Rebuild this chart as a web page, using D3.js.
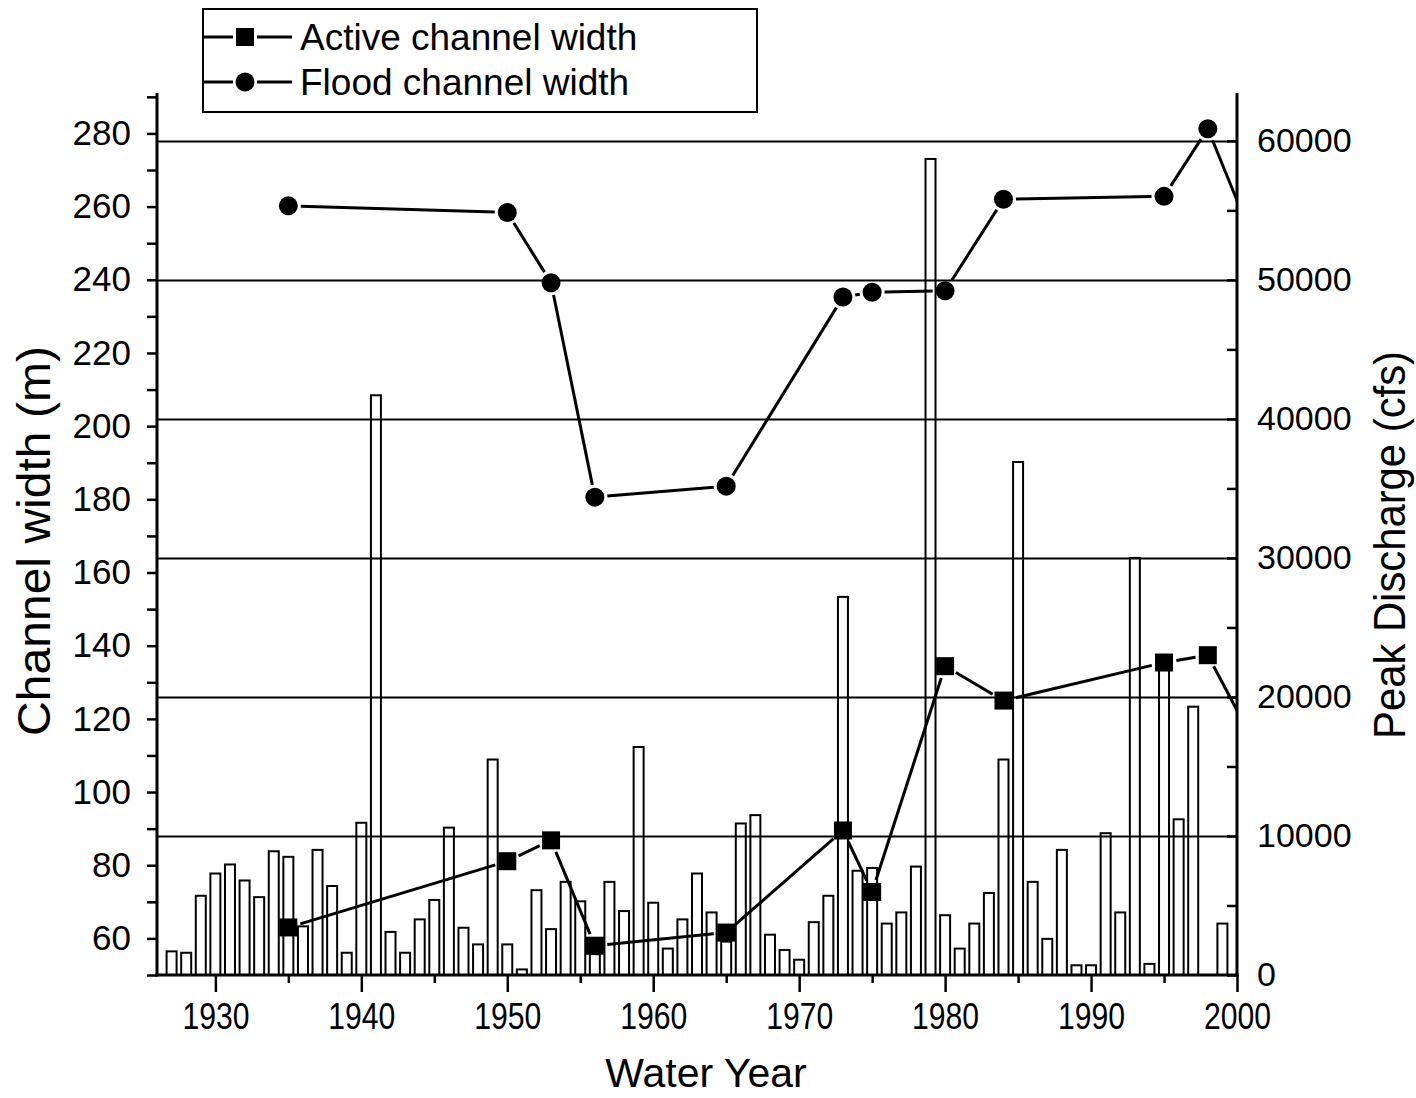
<!DOCTYPE html>
<html><head><meta charset="utf-8">
<script src="https://cdn.jsdelivr.net/npm/d3@7"></script>
<style>
body{margin:0;background:#fff}
svg{display:block}
text{font-family:"Liberation Sans",Arial,Helvetica,sans-serif;fill:#000}
</style>
</head><body>
<svg id="chart" width="1416" height="1098"></svg>
<script>
// ---------------- DATA ----------------
const barYears = d3.range(1927, 2000);
const peakDischarge = [
  1700, 1600, 5700,
  7300, 7950, 6800, 5600, 8900, 8500, 3500, 9000, 6400, 1600,
  10950, 41700, 3100, 1600, 4000, 5400, 10600, 3400, 2200, 15500,
  2200, 400, 6100, 3300, 6700, 5300, 1500, 6700, 4600, 16400,
  5200, 1900, 4000, 7300, 4500, 2400, 10900, 11500, 2900, 1800,
  1100, 3800, 5700, 27200, 7500, 7700, 3700, 4500, 7800, 58700,
  4300, 1900, 3700, 5900, 15500, 36900, 6700, 2600, 9000, 700,
  700, 10200, 4500, 30000, 800, 22400, 11200, 19300, null, 3700
];
const surveyYears = [1935, 1950, 1953, 1956, 1965, 1973, 1975, 1980, 1984, 1995, 1998, 2001];
const activeWidth = [63.0, 81.1, 86.8, 58.0, 61.6, 89.5, 72.7, 134.4, 125.0, 135.4, 137.4, 114.8];
const floodWidth  = [260.2, 258.4, 239.2, 180.6, 183.6, 235.3, 236.6, 237.0, 262.0, 262.8, 281.3, 251.9];
const seriesNames = ["Active channel width", "Flood channel width"];
const xTickValues = [1930, 1940, 1950, 1960, 1970, 1980, 1990, 2000];
const xMinorTicks = [1935, 1945, 1955, 1965, 1975, 1985, 1995];
const leftTickLabels = [60, 80, 100, 120, 140, 160, 180, 200, 220, 240, 260, 280];
const rightTickLabels = [0, 10000, 20000, 30000, 40000, 50000, 60000];

// ---------------- LAYOUT ----------------
const L = 157, R = 1237, T = 95, B = 975;
const svg = d3.select("#chart");
const x = d3.scaleLinear().domain([1926, 2000]).range([L, R]);
const yL = d3.scaleLinear().domain([50, 290.5]).range([B, T]);
const yR = d3.scaleLinear().domain([0, 63300]).range([B, T]);

svg.append("rect").attr("width", 1416).attr("height", 1098).attr("fill", "#fff");

svg.append("defs").append("clipPath").attr("id", "plotclip")
  .append("rect").attr("x", L).attr("y", 40).attr("width", R - L).attr("height", B - 40);

const plot = svg.append("g").attr("clip-path", "url(#plotclip)");

// bars
const barW = 10;
plot.append("g").selectAll("rect")
  .data(barYears.map((yr, i) => ({yr, v: peakDischarge[i]})).filter(d => d.v != null))
  .join("rect")
  .attr("x", d => x(d.yr) - barW / 2)
  .attr("y", d => yR(d.v))
  .attr("width", barW)
  .attr("height", d => B - yR(d.v))
  .attr("fill", "#fff")
  .attr("stroke", "#000")
  .attr("stroke-width", 2);

// gridlines from right axis major ticks
const grid = svg.append("g").attr("transform", `translate(${R},0)`)
  .call(d3.axisRight(yR).tickValues(rightTickLabels.filter(v => v > 0)).tickSize(-(R - L)).tickFormat(""));
grid.select(".domain").remove();
grid.selectAll("line").attr("stroke", "#000").attr("stroke-width", 2);

// lines with gaps around markers
function gappedSegments(years, vals, gap) {
  const pts = years.map((yr, i) => [x(yr), yL(vals[i])]);
  const segs = [];
  for (let i = 0; i < pts.length - 1; i++) {
    const [x1, y1] = pts[i], [x2, y2] = pts[i + 1];
    const dx = x2 - x1, dy = y2 - y1, len = Math.hypot(dx, dy);
    if (len <= 2 * gap) continue;
    const ux = dx / len, uy = dy / len;
    segs.push([x1 + ux * gap, y1 + uy * gap, x2 - ux * gap, y2 - uy * gap]);
  }
  return segs;
}
[activeWidth, floodWidth].forEach(vals => {
  plot.append("g").selectAll("line")
    .data(gappedSegments(surveyYears, vals, 12.5))
    .join("line")
    .attr("x1", d => d[0]).attr("y1", d => d[1])
    .attr("x2", d => d[2]).attr("y2", d => d[3])
    .attr("stroke", "#000").attr("stroke-width", 3);
});

// markers
const sq = 18;
plot.append("g").selectAll("rect")
  .data(surveyYears.map((yr, i) => ({yr, v: activeWidth[i]})))
  .join("rect")
  .attr("x", d => x(d.yr) - sq / 2).attr("y", d => yL(d.v) - sq / 2)
  .attr("width", sq).attr("height", sq).attr("fill", "#000");
plot.append("g").selectAll("circle")
  .data(surveyYears.map((yr, i) => ({yr, v: floodWidth[i]})))
  .join("circle")
  .attr("cx", d => x(d.yr)).attr("cy", d => yL(d.v))
  .attr("r", 9.5).attr("fill", "#000");

// ---------------- AXES ----------------
// bottom
const xAxis = svg.append("g").attr("transform", `translate(0,${B})`)
  .call(d3.axisBottom(x).tickValues(xTickValues.concat(xMinorTicks).sort()).tickSize(17).tickSizeOuter(0).tickPadding(11)
    .tickFormat(d => xTickValues.includes(d) ? d : ""));
xAxis.select(".domain").attr("stroke-width", 3).attr("d", `M${L - 1.5},0H${R + 1.5}`);
xAxis.selectAll(".tick line").attr("stroke-width", 2.5)
  .attr("y2", d => xTickValues.includes(d) ? 17 : 8);
xAxis.selectAll(".tick text")
  .attr("font-size", 37)
  .attr("font-family", "Liberation Sans, Arial, sans-serif")
  .attr("textLength", d => xTickValues.includes(d) ? 67 : null)
  .attr("lengthAdjust", "spacingAndGlyphs");

// left
const yAxisL = svg.append("g").attr("transform", `translate(${L},0)`)
  .call(d3.axisLeft(yL).tickValues(d3.range(50, 291, 10)).tickSize(10).tickSizeOuter(0).tickPadding(16)
    .tickFormat(d => leftTickLabels.includes(d) ? d : ""));
yAxisL.select(".domain").attr("stroke-width", 3).attr("d", `M0,${T - 2}V${B + 1.5}`);
yAxisL.selectAll(".tick line").attr("stroke-width", 2.5);
yAxisL.selectAll(".tick text").attr("font-size", 35).attr("font-family", "Liberation Sans, Arial, sans-serif");

// right
const yAxisR = svg.append("g").attr("transform", `translate(${R},0)`)
  .call(d3.axisRight(yR).tickValues(d3.range(0, 60001, 5000)).tickSizeInner(-10).tickSizeOuter(0).tickPadding(20)
    .tickFormat(d => rightTickLabels.includes(d) ? d : ""));
yAxisR.select(".domain").attr("stroke-width", 3).attr("d", `M0,${T - 2}V${B + 1.5}`);
yAxisR.selectAll(".tick line").attr("stroke-width", 2.5);
yAxisR.selectAll(".tick text").attr("font-size", 34).attr("font-family", "Liberation Sans, Arial, sans-serif");

// titles
svg.append("text").attr("transform", "translate(50,541) rotate(-90)")
  .attr("text-anchor", "middle").attr("font-size", 46)
  .attr("textLength", 390).attr("lengthAdjust", "spacingAndGlyphs")
  .text("Channel width (m)");
svg.append("text").attr("transform", "translate(1405,545) rotate(-90)")
  .attr("text-anchor", "middle").attr("font-size", 44)
  .attr("textLength", 388).attr("lengthAdjust", "spacingAndGlyphs")
  .text("Peak Discharge (cfs)");
svg.append("text").attr("x", 706).attr("y", 1087)
  .attr("text-anchor", "middle").attr("font-size", 41)
  .text("Water Year");

// ---------------- LEGEND ----------------
const lg = svg.append("g");
lg.append("rect").attr("x", 203).attr("y", 9).attr("width", 554).attr("height", 103)
  .attr("fill", "#fff").attr("stroke", "#000").attr("stroke-width", 2);
const rows = [37, 82];
rows.forEach((ry, i) => {
  lg.append("line").attr("x1", 203).attr("x2", 233).attr("y1", ry).attr("y2", ry).attr("stroke", "#000").attr("stroke-width", 3);
  lg.append("line").attr("x1", 257).attr("x2", 292).attr("y1", ry).attr("y2", ry).attr("stroke", "#000").attr("stroke-width", 3);
  if (i === 0) lg.append("rect").attr("x", 245 - sq / 2).attr("y", ry - sq / 2).attr("width", sq).attr("height", sq).attr("fill", "#000");
  else lg.append("circle").attr("cx", 245).attr("cy", ry).attr("r", 9.5).attr("fill", "#000");
  lg.append("text").attr("x", 300).attr("y", ry + 13).attr("font-size", 37).text(seriesNames[i]);
});
</script>
</body></html>
